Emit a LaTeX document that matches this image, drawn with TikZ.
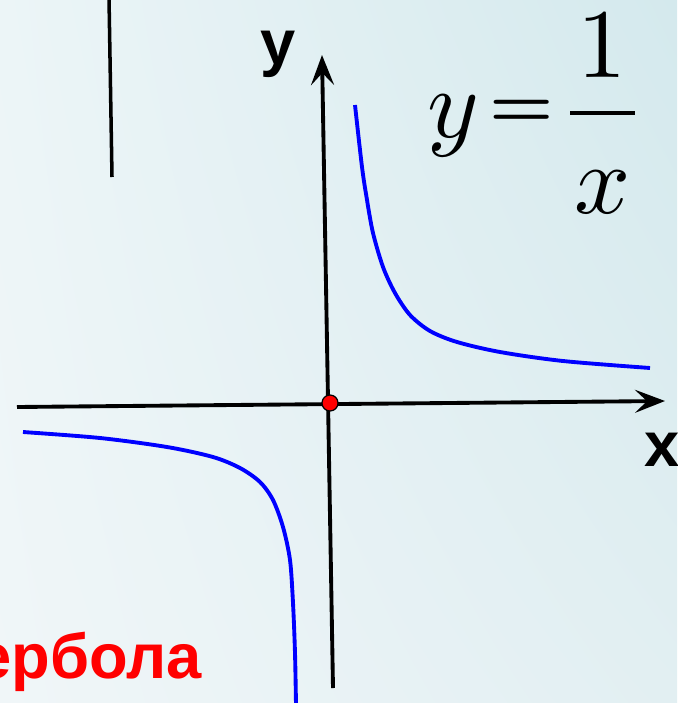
\documentclass[tikz,border=0pt]{standalone}
\usepackage[no-math]{fontspec}
\setmainfont{Liberation Sans}
\usetikzlibrary{arrows.meta, positioning, shadings}
\definecolor{bgul}{RGB}{236,245,247}
\definecolor{bgur}{RGB}{212,233,237}
\definecolor{bgll}{RGB}{240,246,248}
\definecolor{bglr}{RGB}{226,239,242}
\newcommand{\bigmath}[1]{\scalebox{5.6}{$#1$}}

\begin{document}
\begin{tikzpicture}[
        x=0.02cm, y=-0.02cm,
        every node/.style={inner sep=0pt, outer sep=0pt},
        axis/.style={line width=2.2pt, -{Stealth[length=0.6cm, width=0.46cm, inset=0.24cm]}},
        curve/.style={line width=2.2pt, blue, smooth},
        lbl/.style={font=\bfseries\fontsize{36}{40}\selectfont}
    ]
        \shade[upper left=bgul, upper right=bgur, lower left=bgll, lower right=bglr]
              (0,0) rectangle (677,703);
        \useasboundingbox (0,0) rectangle (677,703);
        \clip (0,0) rectangle (677,703);

        \draw[line width=2pt] (109,-2) -- (112,177);

        \coordinate (xstart) at (17,407);
        \coordinate (xend)   at (665,401);
        \coordinate (ystart) at (333,688);
        \coordinate (yend)   at (322,55);
        \draw[axis] (xstart) -- (xend);
        \draw[axis] (ystart) -- (yend);
        \node[circle, fill=red, draw=black, line width=0.7pt, minimum size=0.32cm]
              (origin) at (330,403) {};

        \draw[curve] plot coordinates {(355,105) (362,167) (367,200) (373,233)
              (383,267) (395,293) (410,315) (430,331) (457,342) (500,352)
              (563,361) (650,368)};
        \draw[curve] plot coordinates {(23,432) (100,438) (167,447) (213,457)
              (240,468) (260,482) (273,500) (283,527) (290,560)
              (293,603) (295,653) (296,705)};

        \node[lbl, anchor=base] (ylabel) at (278,64) {y};
        \node[lbl, anchor=base west] (xlabel) at (644,466) {x};
        \node[lbl, red, anchor=base east] (name) at (202,678) {ербола};

        \node[anchor=base] (eqy) at (453,137) {\bigmath{y}};
        \node[anchor=center] (eqeq) at (522,113) {\scalebox{4.1}[3.8]{\boldmath$=$}};
        \node[anchor=base] (eqone) at (602,77) {\bigmath{1}};
        \node[anchor=base] (eqx) at (603,213) {\bigmath{x}};
        \draw[line width=2.4pt] (570,113) -- (635,113);
\end{tikzpicture}
\end{document}
